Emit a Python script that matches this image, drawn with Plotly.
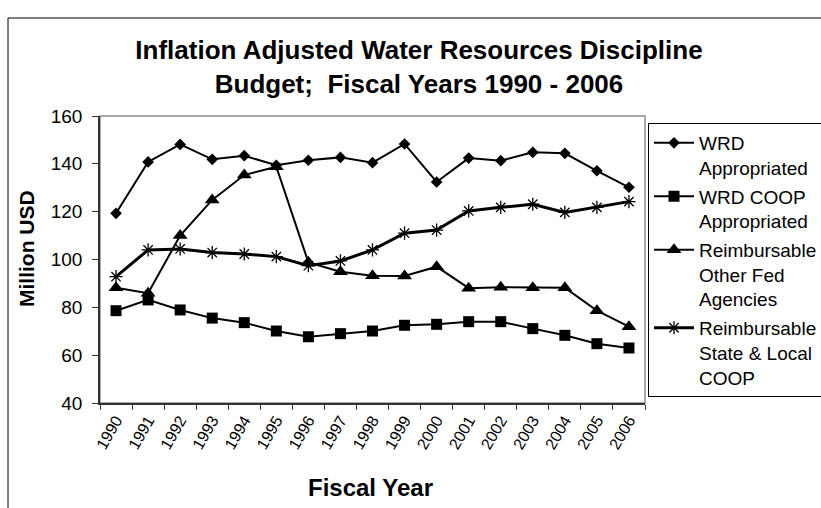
import plotly.graph_objects as go

# Fiscal years (categories)
years = ["1990", "1991", "1992", "1993", "1994", "1995", "1996", "1997", "1998",
         "1999", "2000", "2001", "2002", "2003", "2004", "2005", "2006"]

# Inflation-adjusted budget, million USD
wrd_appropriated = [119.3, 140.8, 148.1, 141.9, 143.4, 139.4, 141.5, 142.7, 140.5,
                    148.3, 132.4, 142.4, 141.3, 144.8, 144.4, 137.1, 130.2]
wrd_coop_appropriated = [78.6, 83.1, 78.9, 75.5, 73.6, 70.1, 67.7, 69.0, 70.1,
                         72.5, 72.9, 74.0, 74.0, 71.1, 68.3, 64.8, 63.0]
reimb_other_fed = [88.2, 85.9, 110.0, 124.9, 135.3, 138.8, 98.8, 94.9, 93.2,
                   93.1, 97.0, 88.0, 88.4, 88.2, 88.2, 78.6, 71.9]
reimb_state_local = [92.8, 104.0, 104.4, 102.9, 102.3, 101.2, 97.4, 99.4, 104.0,
                     111.0, 112.3, 120.3, 121.8, 123.1, 119.7, 121.8, 124.2]

series_names = ["WRD<br>Appropriated", "WRD COOP<br>Appropriated",
                "Reimbursable<br>Other Fed<br>Agencies",
                "Reimbursable<br>State & Local<br>COOP"]

FONT = "Liberation Sans, Arial, Helvetica, sans-serif"
W, H = 821, 508
L, R, T, B = 100, 176, 116, 105
PW, PH = W - L - R, H - T - B


def px_x(px):
    return (px - L) / PW


def px_y(py):
    return 1 - (py - T) / PH


fig = go.Figure()

styles = [
    (wrd_appropriated, dict(symbol="diamond", size=9), 2),
    (wrd_coop_appropriated, dict(symbol="square", size=11), 2),
    (reimb_other_fed, dict(symbol="triangle-up", size=13), 2),
    (reimb_state_local, dict(symbol="asterisk-open", size=11,
                             line=dict(color="black", width=1.3)), 3),
]

for i, (vals, marker, lw) in enumerate(styles):
    m = dict(color="black", **marker)
    if "line" not in m:
        m["line"] = dict(width=0)
    fig.add_trace(go.Scatter(
        x=years, y=vals, name=series_names[i], mode="lines+markers",
        line=dict(color="black", width=lw), marker=m,
        legendgroup=f"g{i}",
    ))

fig.update_layout(
    width=W, height=H,
    margin=dict(l=L, r=R, t=T, b=B, autoexpand=False),
    paper_bgcolor="white", plot_bgcolor="white",
    font=dict(family=FONT, color="black"),
    title=dict(
        text="Inflation Adjusted Water Resources Discipline<br>Budget;\u00a0 Fiscal Years 1990 - 2006",
        font=dict(size=26, family=FONT, color="black", weight="bold"),
        x=419 / W, xref="container", xanchor="center",
        y=1 - 59 / H, yref="container", yanchor="middle",
    ),
    xaxis=dict(
        type="category", categoryorder="array", categoryarray=years,
        range=[-0.5, len(years) - 0.5],
        tickson="boundaries", ticks="outside", ticklen=5, tickwidth=1.2,
        tickcolor="#333333", tickangle=-60,
        tickfont=dict(size=16, family=FONT, color="black"),
        showline=True, linecolor="#333333", linewidth=1.5,
        showgrid=False, zeroline=False,
    ),
    yaxis=dict(
        range=[40, 160], dtick=20, tick0=40,
        ticks="outside", ticklen=6, tickwidth=1.2, tickcolor="#333333",
        ticklabelstandoff=6,
        tickfont=dict(size=19, family=FONT, color="black"),
        showline=True, linecolor="#333333", linewidth=1.5,
        showgrid=False, zeroline=False,
    ),
    legend=dict(
        x=px_x(648), xanchor="left", y=px_y(123), yanchor="top",
        bordercolor="black", borderwidth=1, bgcolor="white",
        font=dict(size=19, family=FONT, color="black"),
        valign="top", tracegroupgap=1, itemwidth=40,
    ),
    showlegend=True,
)

# plot-area frame (top and right edges in grey)
fig.add_shape(type="rect", xref="paper", yref="paper", x0=0, x1=1, y0=0, y1=1,
              line=dict(color="#8c8c8c", width=1.5), layer="below")
# outer chart-area border (left and top edges)
fig.add_shape(type="line", xref="paper", yref="paper",
              x0=px_x(8), x1=px_x(8), y0=px_y(H), y1=px_y(18),
              line=dict(color="black", width=1), layer="below")
fig.add_shape(type="line", xref="paper", yref="paper",
              x0=px_x(8), x1=px_x(W), y0=px_y(18), y1=px_y(18),
              line=dict(color="black", width=1), layer="below")

fig.add_annotation(text="<b>Million USD</b>", textangle=-90,
                   xref="paper", yref="paper", x=px_x(26), y=px_y(249),
                   xanchor="center", yanchor="middle", showarrow=False,
                   font=dict(size=21, family=FONT, color="black"))
fig.add_annotation(text="<b>Fiscal Year</b>",
                   xref="paper", yref="paper", x=px_x(370), y=px_y(487),
                   xanchor="center", yanchor="middle", showarrow=False,
                   font=dict(size=24, family=FONT, color="black"))

fig.write_html("out.html", config={"displayModeBar": False})
